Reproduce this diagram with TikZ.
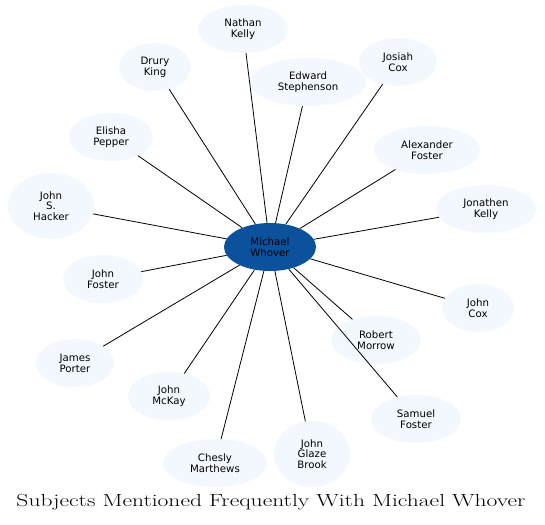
\documentclass[tikz,border=0pt]{standalone}
\usepackage{fontspec}
\usepackage{tikz}
\usetikzlibrary{shapes.geometric}
\newfontfamily\nodefont{DejaVu Sans}
\definecolor{hubblue}{HTML}{0B519C}
\definecolor{palefill}{HTML}{F3F7FE}

\begin{document}
\begin{tikzpicture}[x={(1pt,0)}, y={(0,-1pt)}, thin]
  % styly uzlu
  \tikzset{
    person/.style={ellipse, fill=palefill, inner sep=0pt, align=center,
      font=\nodefont\fontsize{10.2}{10.8}\selectfont, minimum height=48pt},
    hub/.style={person, fill=hubblue},
    link/.style={black, line width=0.8pt}
  }
  \useasboundingbox (0,0) rectangle (545,524);

  % stredni uzel
  \node[hub, minimum width=92pt] (whover) at (270,247) {Michael\\Whover};

  % okolni uzly
  \node[person, minimum width=90pt]  (nkelly)   at (243,29)  {Nathan\\Kelly};
  \node[person, minimum width=72pt]  (dking)    at (155,67)  {Drury\\King};
  \node[person, minimum width=116pt] (estephen) at (308,82)  {Edward\\Stephenson};
  \node[person, minimum width=78pt]  (jcox1)    at (398,62)  {Josiah\\Cox};
  \node[person, minimum width=84pt]  (epepper)  at (111,137) {Elisha\\Pepper};
  \node[person, minimum width=106pt] (afoster)  at (427,150) {Alexander\\Foster};
  \node[person, minimum width=86pt, minimum height=66pt] (jhacker) at (51,206) {John\\S.\\Hacker};
  \node[person, minimum width=100pt] (jkelly)   at (486,209) {Jonathen\\Kelly};
  \node[person, minimum width=80pt]  (jfoster)  at (103,279) {John\\Foster};
  \node[person, minimum width=72pt]  (jcox2)    at (478,308) {John\\Cox};
  \node[person, minimum width=90pt]  (rmorrow)  at (376,340) {Robert\\Morrow};
  \node[person, minimum width=78pt]  (jporter)  at (75,363)  {James\\Porter};
  \node[person, minimum width=82pt]  (jmckay)   at (169,396) {John\\McKay};
  \node[person, minimum width=90pt]  (sfoster)  at (416,419) {Samuel\\Foster};
  \node[person, minimum width=104pt] (cmarth)   at (215,463) {Chesly\\Marthews};
  \node[person, minimum width=76pt, minimum height=66pt] (jbrook) at (312,454) {John\\Glaze\\Brook};

  % spojnice
  \foreach \n in {nkelly, dking, estephen, jcox1, epepper, afoster, jhacker, jkelly,
                  jfoster, jcox2, rmorrow, jporter, jmckay, sfoster, cmarth, jbrook}
    \draw[link] (whover) -- (\n);

  % nadpis
  \node[anchor=base, inner sep=0pt] (title) at (271,506)
    {\resizebox{509pt}{\height}{\fontsize{17.5}{20}\selectfont Subjects Mentioned Frequently With Michael Whover}};
\end{tikzpicture}
\end{document}
